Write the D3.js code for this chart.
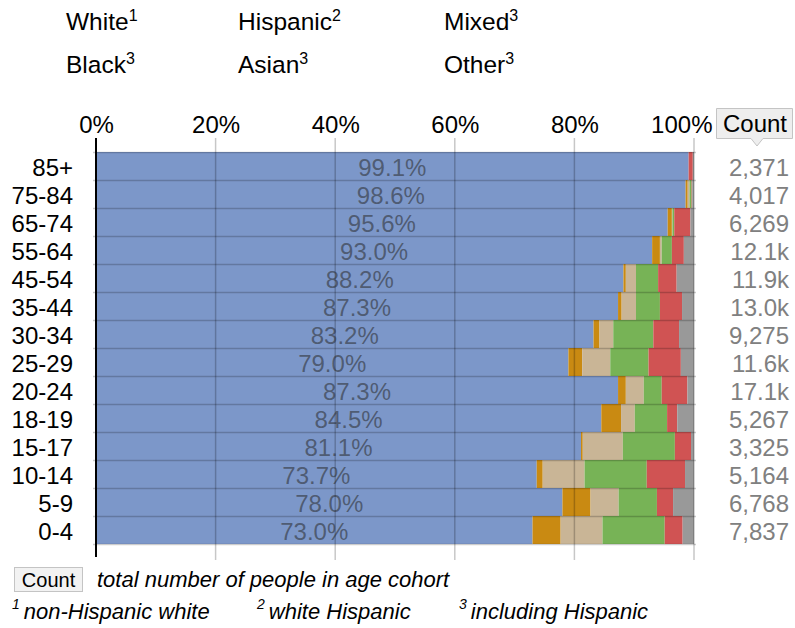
<!DOCTYPE html>
<html>
<head>
<meta charset="utf-8">
<script src="https://cdn.jsdelivr.net/npm/d3@7"></script>
<style>
  html, body { margin: 0; padding: 0; background: #fff; }
  svg { display: block; font-family: "Liberation Sans", Arial, sans-serif; }
</style>
</head>
<body>
<svg id="chart" width="795" height="628"></svg>
<script>
// Age cohorts, top to bottom
const ageGroups = ["85+", "75-84", "65-74", "55-64", "45-54", "35-44", "30-34",
                   "25-29", "20-24", "18-19", "15-17", "10-14", "5-9", "0-4"];

// Share of each cohort (%) by group
const white    = [99.1, 98.6, 95.6, 93.0, 88.2, 87.3, 83.2, 79.0, 87.3, 84.5, 81.1, 73.7, 78.0, 73.0];
const hispanic = [0.0,  0.35, 0.7,  1.3,  0.4,  0.6,  1.0,  2.3,  1.3,  3.3,  0.3,  1.0,  4.7,  4.7];
const mixed    = [0.0,  0.3,  0.1,  0.3,  1.7,  2.4,  2.3,  4.7,  3.0,  2.3,  6.7,  7.0,  4.7,  7.0];
const black    = [0.0,  0.35, 0.3,  1.7,  3.7,  4.0,  6.7,  6.4,  3.0,  5.4,  8.7,  10.4, 6.4,  10.4];
const asian    = [0.7,  0.1,  2.7,  2.0,  3.1,  3.7,  4.3,  5.4,  4.3,  1.7,  2.7,  6.4,  2.7,  3.0];
const other    = [0.2,  0.3,  0.6,  1.7,  2.9,  2.0,  2.5,  2.2,  1.1,  2.8,  0.5,  1.5,  3.5,  1.9];

// Total people per cohort
const counts = [2371, 4017, 6269, 12100, 11900, 13000, 9275, 11600, 17100, 5267, 3325, 5164, 6768, 7837];

const xTicks = [0, 20, 40, 60, 80, 100];

const groupNames  = ["White", "Hispanic", "Mixed", "Black", "Asian", "Other"];
const groupSup    = ["1", "2", "3", "3", "3", "3"];
const groupColors = ["#7c97c9", "#c98a12", "#c9b596", "#77b356", "#d05353", "#999999"];

const series = [white, hispanic, mixed, black, asian, other];
const rows = ageGroups.map((age, i) => {
  const r = { age };
  groupNames.forEach((g, k) => { r[g] = series[k][i]; });
  return r;
});

const svg = d3.select("#chart");
const FONT = 24;

const x = d3.scaleLinear().domain([0, 100]).range([96, 694]);
const y = d3.scaleBand().domain(ageGroups).range([152, 544]).padding(0);

// Stacked bars
const stacked = d3.stack().keys(groupNames)(rows);
const color = d3.scaleOrdinal().domain(groupNames).range(groupColors);

svg.append("g").selectAll("g")
  .data(stacked).join("g")
  .attr("fill", d => color(d.key))
  .selectAll("rect")
  .data(d => d).join("rect")
  .attr("x", d => x(d[0]))
  .attr("y", d => y(d.data.age))
  .attr("width", d => Math.max(0, x(d[1]) - x(d[0])))
  .attr("height", y.bandwidth());

// Row separators
svg.append("g").selectAll("line")
  .data(ageGroups.map(a => y(a)).concat([y.range()[1]]))
  .join("line")
  .attr("x1", 93).attr("x2", 696)
  .attr("y1", d => d + 0.5).attr("y2", d => d + 0.5)
  .attr("stroke", "rgba(0,0,0,0.2)")
  .attr("stroke-width", 1.5);

// Vertical grid lines, drawn over the bars
svg.append("g").selectAll("line")
  .data(xTicks.filter(t => t > 0))
  .join("line")
  .attr("x1", d => x(d)).attr("x2", d => x(d))
  .attr("y1", 138).attr("y2", 560)
  .attr("stroke", "rgba(0,0,0,0.22)")
  .attr("stroke-width", 1.5);

// Left axis line
svg.append("line")
  .attr("x1", x(0)).attr("x2", x(0))
  .attr("y1", 138).attr("y2", 557)
  .attr("stroke", "#000").attr("stroke-width", 2);

// Top axis labels
const xAxis = svg.append("g")
  .attr("transform", "translate(0,136)")
  .call(d3.axisTop(x).tickValues(xTicks).tickSize(0).tickPadding(3).tickFormat(d => d + "%"));
xAxis.select(".domain").remove();
xAxis.selectAll("text").attr("font-size", FONT).attr("fill", "#000")
  .attr("font-family", "Liberation Sans, Arial, sans-serif");
// keep the last label clear of the "Count" tag
xAxis.selectAll(".tick").filter(d => d === 100).select("text")
  .attr("text-anchor", "end").attr("x", 712 - x(100));

// Row labels
const yAxis = svg.append("g")
  .attr("transform", "translate(73,0)")
  .call(d3.axisLeft(y).tickSize(0).tickPadding(0));
yAxis.select(".domain").remove();
yAxis.selectAll("text").attr("font-size", FONT).attr("fill", "#000")
  .attr("dy", "0.42em")
  .attr("font-family", "Liberation Sans, Arial, sans-serif");

// White share label centred in the first segment
svg.append("g").selectAll("text")
  .data(rows).join("text")
  .attr("x", d => x(d.White / 2))
  .attr("y", d => y(d.age) + y.bandwidth() / 2)
  .attr("dy", "0.42em")
  .attr("text-anchor", "middle")
  .attr("font-size", FONT)
  .attr("fill", "rgba(40,40,40,0.55)")
  .text(d => d.White.toFixed(1) + "%");

// Cohort totals
const fmtCount = n => n >= 10000 ? (n / 1000).toFixed(1) + "k" : d3.format(",")(n);
svg.append("g").selectAll("text")
  .data(counts).join("text")
  .attr("x", 789)
  .attr("y", (d, i) => y(ageGroups[i]) + y.bandwidth() / 2)
  .attr("dy", "0.42em")
  .attr("text-anchor", "end")
  .attr("font-size", FONT)
  .attr("fill", "#808080")
  .text(fmtCount);

// "Count" header tag with pointer
const tag = svg.append("g");
tag.append("path")
  .attr("d", "M716.5,108.5 H792.5 V138.5 H763 L757,146 L751,138.5 H716.5 Z")
  .attr("fill", "#eeeeee").attr("stroke", "#c4c4c4");
tag.append("text")
  .attr("x", 755).attr("y", 132)
  .attr("text-anchor", "middle")
  .attr("font-size", FONT).attr("fill", "#000")
  .text("Count");

// Legend
const legendPos = [[66, 30], [238, 30], [444, 30], [66, 73], [238, 73], [444, 73]];
const legendOrder = ["White", "Hispanic", "Mixed", "Black", "Asian", "Other"];
const legend = svg.append("g");
legendOrder.forEach((name, i) => {
  const t = legend.append("text")
    .attr("x", legendPos[i][0]).attr("y", legendPos[i][1])
    .attr("font-size", 24.5).attr("fill", "#000");
  t.append("tspan").text(name);
  t.append("tspan").attr("font-size", 16).attr("dy", -9)
    .text(groupSup[groupNames.indexOf(name)]);
});

// Footnotes
const foot = svg.append("g");
foot.append("rect")
  .attr("x", 14.5).attr("y", 567.5).attr("width", 68).attr("height", 24)
  .attr("fill", "#f2f2f2").attr("stroke", "#c4c4c4");
foot.append("text")
  .attr("x", 48.5).attr("y", 587)
  .attr("text-anchor", "middle")
  .attr("font-size", 20).attr("fill", "#000")
  .text("Count");
foot.append("text")
  .attr("x", 97).attr("y", 587)
  .attr("font-size", 22).attr("font-style", "italic").attr("fill", "#000")
  .text("total number of people in age cohort");

const notes = [[12, "1", "non-Hispanic white"], [257, "2", "white Hispanic"], [459, "3", "including Hispanic"]];
notes.forEach(([nx, sup, txt]) => {
  const t = foot.append("text")
    .attr("x", nx).attr("y", 619)
    .attr("font-style", "italic").attr("fill", "#000");
  t.append("tspan").attr("font-size", 14).attr("dy", -10).text(sup);
  t.append("tspan").attr("font-size", 22).attr("dy", 10).attr("dx", 4).text(txt);
});
</script>
</body>
</html>
